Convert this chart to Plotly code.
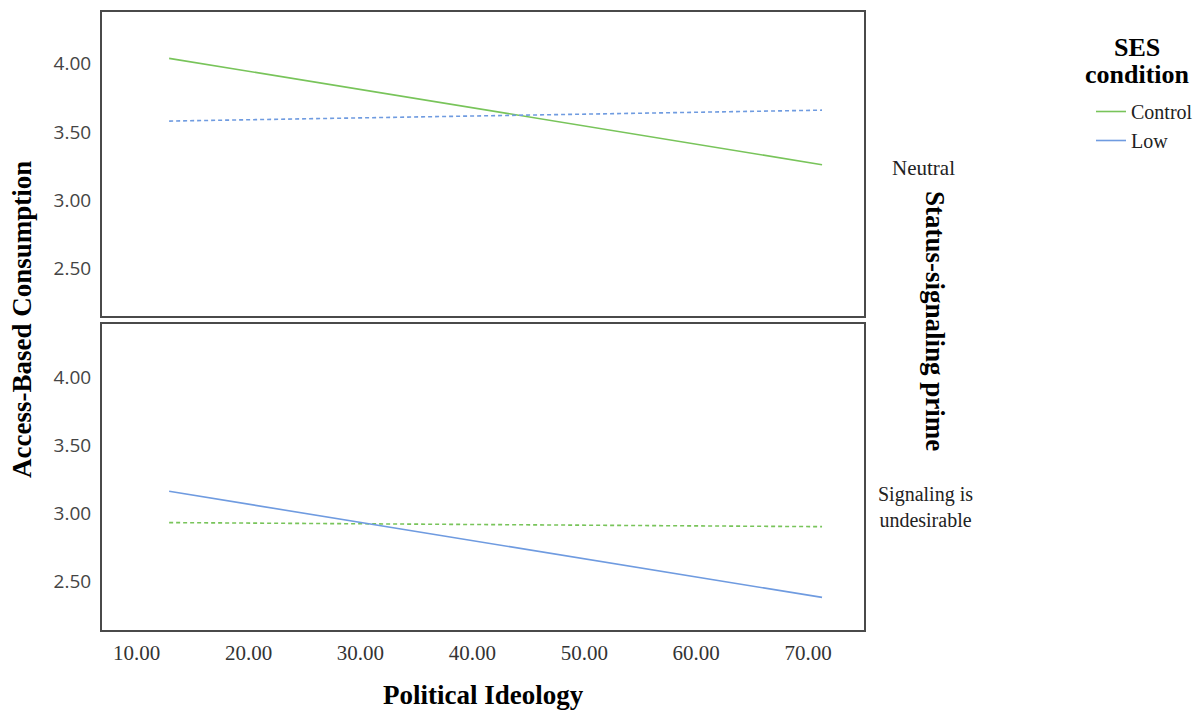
import plotly.graph_objects as go

ideology = [12.9, 71.25]
# Neutral prime (top panel)
neutral_control = [4.04, 3.26]
neutral_low = [3.58, 3.66]
# Signaling is undesirable (bottom panel)
undesirable_control = [2.93, 2.90]
undesirable_low = [3.16, 2.38]

x_ticks = [10, 20, 30, 40, 50, 60, 70]
y_ticks = [2.5, 3.0, 3.5, 4.0]

GREEN = "#78c45a"
BLUE = "#6f9be0"
SERIF = "Liberation Serif"
SANS = "Open Sans"

W, H = 1197, 710
L, R, T, B = 102, 333, 12, 80
PW = W - L - R
PH = H - T - B


def px(xp):
    return (xp - L) / PW


def py(yp):
    return (H - B - yp) / PH


fig = go.Figure()
# top panel
fig.add_trace(go.Scatter(x=ideology, y=neutral_control, mode="lines", name="Control",
                         line=dict(color=GREEN, width=1.6), xaxis="x2", yaxis="y2", legendgroup="c"))
fig.add_trace(go.Scatter(x=ideology, y=neutral_low, mode="lines", name="Low",
                         line=dict(color=BLUE, width=1.6, dash="4px,3px"), xaxis="x2", yaxis="y2",
                         showlegend=False, legendgroup="l"))
# bottom panel
fig.add_trace(go.Scatter(x=ideology, y=undesirable_control, mode="lines", name="Control",
                         line=dict(color=GREEN, width=1.6, dash="4px,3px"), xaxis="x", yaxis="y",
                         showlegend=False, legendgroup="c"))
fig.add_trace(go.Scatter(x=ideology, y=undesirable_low, mode="lines", name="Low",
                         line=dict(color=BLUE, width=1.6), xaxis="x", yaxis="y", legendgroup="l"))

axis_common = dict(showgrid=False, zeroline=False, showline=True, mirror=True,
                   linecolor="#4a4a4a", linewidth=2, ticks="")

y_common = dict(tickvals=y_ticks, ticktext=[f"{v:.2f}" for v in y_ticks],
                tickfont=dict(family=SANS, size=19, color="#444444"), ticklabelstandoff=5,
                **axis_common)

fig.update_layout(
    width=W, height=H,
    margin=dict(l=L, r=R, t=T, b=B, autoexpand=False),
    paper_bgcolor="white", plot_bgcolor="white",
    font=dict(family=SERIF, color="#000000"),
    xaxis=dict(range=[6.9, 75.0], tickvals=x_ticks, ticktext=[f"{v:.2f}" for v in x_ticks],
               tickfont=dict(family=SERIF, size=21, color="#333333"), ticklabelstandoff=3,
               anchor="y", **axis_common),
    xaxis2=dict(range=[6.9, 75.0], matches="x", showticklabels=False, anchor="y2", **axis_common),
    yaxis=dict(domain=[0, 0.495], range=[2.14, 4.39], anchor="x", **y_common),
    yaxis2=dict(domain=[0.508, 1], range=[2.15, 4.38], anchor="x2", **y_common),
    showlegend=True,
    legend=dict(
        x=px(1091), y=py(92), xanchor="left", yanchor="top",
        xref="paper", yref="paper",
        font=dict(family=SERIF, size=20, color="#222"),
        itemwidth=30, tracegroupgap=0, bgcolor="rgba(0,0,0,0)",
    ),
)


def note(text, x, y, size, color="#000", angle=0):
    fig.add_annotation(text=text, xref="paper", yref="paper", x=px(x), y=py(y),
                       xanchor="center", yanchor="middle", textangle=angle, showarrow=False,
                       font=dict(family=SERIF, size=size, color=color))


# legend title
note("<b>SES</b>", 1137, 47, 26)
note("<b>condition</b>", 1137, 74, 26)

note("<b>Political Ideology</b>", 483, 695, 27)
note("<b>Access-Based Consumption</b>", 22, 320, 27, angle=-90)
note("<b>Status-signaling prime</b>", 935, 321, 27, angle=90)
note("Neutral", 923, 168, 21, color="#222")
note("Signaling is<br>undesirable", 925, 507, 20, color="#222")

fig.write_html("out.html", post_script="document.body.style.margin='0';",
               config={"displayModeBar": False})
